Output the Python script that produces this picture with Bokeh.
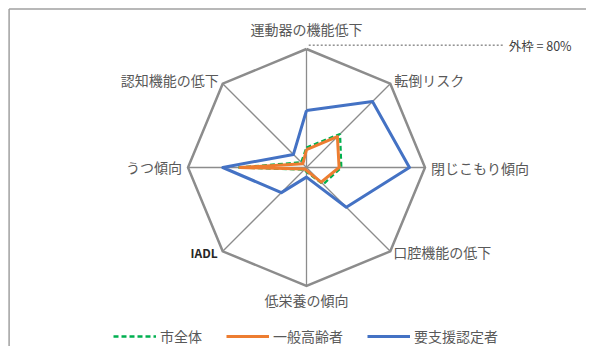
import numpy as np
from bokeh.plotting import figure
from bokeh.models import Range1d, Label, Legend, LegendItem
from bokeh.embed import file_html
from bokeh.resources import INLINE

# ---- data ----
categories = ["運動器の機能低下", "転倒リスク", "閉じこもり傾向", "口腔機能の低下",
              "低栄養の傾向", "IADL", "うつ傾向", "認知機能の低下"]
city_all = [13.5, 32, 23.5, 16, 3, 2, 46, 5]           # 市全体
general_elderly = [12, 29.5, 22, 14, 2, 1.5, 45, 3.5]   # 一般高齢者
support_cert = [38.5, 63, 69.5, 38, 6.5, 24, 56.5, 12.5]  # 要支援認定者
series_names = ["市全体", "一般高齢者", "要支援認定者"]
outer_max = 80
outer_note = "外枠 = 80%"

# ---- layout ----
W, H = 586, 346
k = 118.5 / outer_max          # px per unit
cx, cy = 306, 167              # center inside frame (px from left/top)
FONT = "Noto Sans CJK JP"

x0, x1 = -cx / k, (W - cx) / k
y0, y1 = -(H - cy) / k, cy / k
p = figure(width=W, height=H, output_backend="svg", toolbar_location=None,
           x_axis_type=None, y_axis_type=None, min_border=0,
           x_range=Range1d(x0, x1), y_range=Range1d(y0, y1))
p.grid.visible = False
p.outline_line_color = None
p.background_fill_color = "white"
p.border_fill_color = "white"

n = len(categories)
ang = np.pi / 2 - np.arange(n) * 2 * np.pi / n

def xy(vals):
    v = np.asarray(vals, dtype=float)
    x = v * np.cos(ang)
    y = v * np.sin(ang)
    return np.append(x, x[0]), np.append(y, y[0])

# chart area border (top and left visible)
bx = x0 + 8.6 / k
by = y1 - 8.6 / k
p.segment(x0=[bx, bx], y0=[by, by], x1=[x1, bx], y1=[by, y0],
          line_color="#a0a0a0", line_width=1.5)

# spokes
for a in ang:
    p.line([0, outer_max * np.cos(a)], [0, outer_max * np.sin(a)],
           line_color="#8c8c8c", line_width=1.3)
# outer octagon
ox, oy = xy([outer_max] * n)
p.line(ox, oy, line_color="#8c8c8c", line_width=2.5, line_join="miter")

# series
gx, gy = xy(city_all)
r_city = p.line(gx, gy, line_color="#00B050", line_width=2.3, line_dash="5 3")
ex, ey = xy(general_elderly)
r_gen = p.line(ex, ey, line_color="#ED7D31", line_width=3, line_join="round")
sx, sy = xy(support_cert)
r_sup = p.line(sx, sy, line_color="#4472C4", line_width=3, line_join="round")

# category labels
offsets = [("center", 0, 20), ("left", 4, 4), ("left", 6, 0), ("left", 3, -1),
           ("center", 0, -14), ("right", -5, -1), ("right", -6, 1), ("right", -4, 4)]
for i, (cat, (al, dx, dy)) in enumerate(zip(categories, offsets)):
    is_latin = cat == "IADL"
    p.add_layout(Label(x=outer_max * np.cos(ang[i]), y=outer_max * np.sin(ang[i]),
                       text=cat, x_offset=dx, y_offset=dy,
                       text_align=al, text_baseline="middle",
                       text_font=FONT, text_font_size="12px" if is_latin else "14px",
                       text_font_style="bold" if is_latin else "normal",
                       text_color="#262626" if is_latin else "#595959"))

# outer frame note
note_y = outer_max + 2.6
p.segment(x0=[1.5], y0=[note_y], x1=[132.5], y1=[note_y],
          line_color="#595959", line_width=1, line_dash="2 2")
p.add_layout(Label(x=136.5, y=note_y, text=outer_note, text_align="left",
                   text_baseline="middle", text_font=FONT, text_font_size="12.5px",
                   text_color="#404040"))

legend = Legend(items=[LegendItem(label=series_names[0], renderers=[r_city]),
                       LegendItem(label=series_names[1], renderers=[r_gen]),
                       LegendItem(label=series_names[2], renderers=[r_sup])],
                orientation="horizontal", location=(113, 0),
                glyph_width=43, glyph_height=16, label_height=16,
                label_standoff=4, spacing=24, padding=0, margin=0,
                border_line_color=None, background_fill_alpha=0,
                label_text_font=FONT, label_text_font_size="14px",
                label_text_color="#595959")
p.add_layout(legend)

open("out.html", "w").write(file_html(p, INLINE))
